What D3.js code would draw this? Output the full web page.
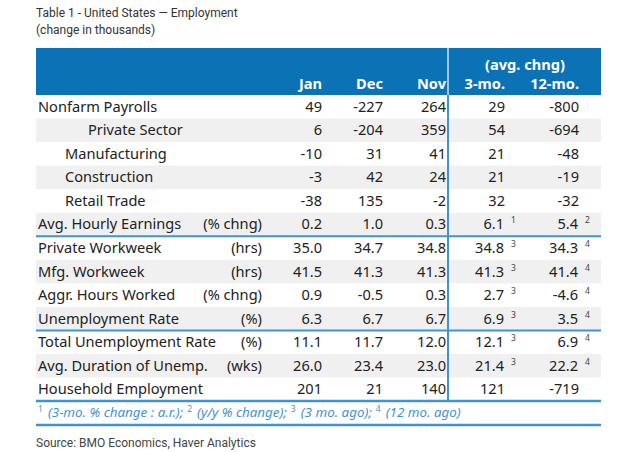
<!DOCTYPE html>
<html><head><meta charset="utf-8">
<script src="https://cdn.jsdelivr.net/npm/d3@7"></script>
<style>
html,body{margin:0;padding:0;background:#fff;}
svg{display:block;}
</style></head>
<body>
<svg id="chart" width="624" height="452"></svg>
<script>
// ---- data ----
const rowLabels = ["Nonfarm Payrolls","Private Sector","Manufacturing","Construction","Retail Trade",
  "Avg. Hourly Earnings","Private Workweek","Mfg. Workweek","Aggr. Hours Worked","Unemployment Rate",
  "Total Unemployment Rate","Avg. Duration of Unemp.","Household Employment"];
const rowUnits = ["","","","","","(% chng)","(hrs)","(hrs)","(% chng)","(%)","(%)","(wks)",""];
const rowIndent = [0,2,1,1,1,0,0,0,0,0,0,0,0];
const rowDecimals = [0,0,0,0,0,1,1,1,1,1,1,1,0];
const columns = ["Jan","Dec","Nov","3-mo.","12-mo."];
const janValues = [49,6,-10,-3,-38,0.2,35.0,41.5,0.9,6.3,11.1,26.0,201];
const decValues = [-227,-204,31,42,135,1.0,34.7,41.3,-0.5,6.7,11.7,23.4,21];
const novValues = [264,359,41,24,-2,0.3,34.8,41.3,0.3,6.7,12.0,23.0,140];
const avg3Values = [29,54,21,21,32,6.1,34.8,41.3,2.7,6.9,12.1,21.4,121];
const avg12Values = [-800,-694,-48,-19,-32,5.4,34.3,41.4,-4.6,3.5,6.9,22.2,-719];
const avg3Notes = ["","","","","","1","3","3","3","3","3","3",""];
const avg12Notes = ["","","","","","2","4","4","4","4","4","4",""];
const groupBreaks = [6,10]; // rows starting a new group (line above)
const footnotes = [["1","(3-mo. % change : a.r.);"],["2","(y/y % change);"],["3","(3 mo. ago);"],["4","(12 mo. ago)"]];
const titleLines = ["Table 1 - United States \u2014 Employment","(change in thousands)"];
const sourceText = "Source: BMO Economics, Haver Analytics";

// ---- layout ----
const svg = d3.select("#chart");
const left = 36, right = 601;
const headTop = 48, headBottom = 95, bodyBottom = 401, noteBottom = 425;
const divX = 448;
const bodyFont = "'Noto Sans', 'Open Sans', sans-serif";
const fs = 14.6;
const blue = "#0b72b5", lineBlue = "#3f93d3", textCol = "#222";

const y = d3.scaleBand().domain(d3.range(rowLabels.length)).range([headBottom, bodyBottom]);
const colRight = d3.scaleOrdinal().domain(columns).range([322, 383, 446, 505, 579]);
const colValues = [janValues, decValues, novValues, avg3Values, avg12Values];
const colNotes = [null, null, null, avg3Notes, avg12Notes];
const fmt = (v,dec) => d3.format("."+dec+"f")(v).replace("\u2212","-");

// title
svg.selectAll("text.title").data(titleLines).join("text")
  .attr("class","title").attr("x", left).attr("y",(d,i)=>17+i*17)
  .attr("font-family","Roboto, sans-serif").attr("font-size",12).attr("fill","#333").text(d=>d);

// header
svg.append("rect").attr("x",left).attr("y",headTop).attr("width",right-left).attr("height",headBottom-headTop).attr("fill",blue);
svg.append("line").attr("x1",divX).attr("x2",divX).attr("y1",headTop).attr("y2",headBottom)
  .attr("stroke","#cfe4f4").attr("stroke-width",1.5);
svg.append("text").attr("x",525).attr("y",70)
  .attr("text-anchor","middle").attr("font-family",bodyFont).attr("font-size",fs).attr("font-weight","bold")
  .attr("fill","#fff").text("(avg. chng)");
svg.selectAll("text.colhead").data(columns).join("text").attr("class","colhead")
  .attr("x",d=>colRight(d)).attr("y",89).attr("text-anchor","end")
  .attr("font-family",bodyFont).attr("font-size",fs).attr("font-weight","bold").attr("fill","#fff").text(d=>d);

// stripes
svg.selectAll("rect.stripe").data(d3.range(rowLabels.length).filter(i=>i%2===1)).join("rect")
  .attr("class","stripe").attr("x",left).attr("width",right-left)
  .attr("y",i=>y(i)).attr("height",y.bandwidth()).attr("fill","#f0f0f0");

// row labels
const mid = i => y(i)+y.bandwidth()/2+5;
svg.selectAll("text.label").data(rowLabels).join("text").attr("class","label")
  .attr("x",(d,i)=>left+2+[0,27,50][rowIndent[i]]).attr("y",(d,i)=>mid(i))
  .attr("font-family",bodyFont).attr("font-size",fs).attr("fill",textCol).text(d=>d);
svg.selectAll("text.unit").data(rowUnits).join("text").attr("class","unit")
  .attr("x",262).attr("y",(d,i)=>mid(i)).attr("text-anchor","end")
  .attr("font-family",bodyFont).attr("font-size",fs).attr("fill",textCol).text(d=>d);

// values
colValues.forEach((vals,ci)=>{
  const c = columns[ci];
  const notes = colNotes[ci];
  svg.selectAll("text.v"+ci).data(vals).join("text").attr("class","v"+ci)
    .attr("x",(d,i)=>colRight(c) - (notes && notes[i] ? 1 : 0)).attr("y",(d,i)=>mid(i)).attr("text-anchor","end")
    .attr("font-family",bodyFont).attr("font-size",fs).attr("fill",textCol)
    .text((d,i)=>fmt(d,rowDecimals[i]));
  if (notes) {
    svg.selectAll("text.n"+ci).data(notes).join("text").attr("class","n"+ci)
      .attr("x",colRight(c)+6).attr("y",(d,i)=>mid(i)-6)
      .attr("font-family",bodyFont).attr("font-size",8.5).attr("fill","#444").text(d=>d);
  }
});

// lines
svg.selectAll("line.grp").data(groupBreaks).join("line").attr("class","grp")
  .attr("x1",left).attr("x2",right).attr("y1",i=>y(i)).attr("y2",i=>y(i))
  .attr("stroke",lineBlue).attr("stroke-width",2);
svg.append("line").attr("x1",divX).attr("x2",divX).attr("y1",headBottom).attr("y2",bodyBottom)
  .attr("stroke",lineBlue).attr("stroke-width",2);
[bodyBottom, noteBottom].forEach(yy=>{
  svg.append("line").attr("x1",left).attr("x2",right).attr("y1",yy).attr("y2",yy)
    .attr("stroke",lineBlue).attr("stroke-width",2.5);
});

// footnote
const fn = svg.append("text").attr("x",left+2).attr("y",417)
  .attr("font-family",bodyFont).attr("font-size",13.4).attr("font-style","italic").attr("fill","#3f93d3");
footnotes.forEach((f,i)=>{
  fn.append("tspan").attr("dx", i===0?0:4).attr("dy",-5).attr("font-size",8.5).attr("font-style","normal").text(f[0]);
  fn.append("tspan").attr("dx",5).attr("dy",5).text(f[1]);
});

// source
svg.append("text").attr("x",left).attr("y",447).attr("font-family","Roboto, sans-serif")
  .attr("font-size",12).attr("fill","#444").text(sourceText);
</script>
</body></html>
